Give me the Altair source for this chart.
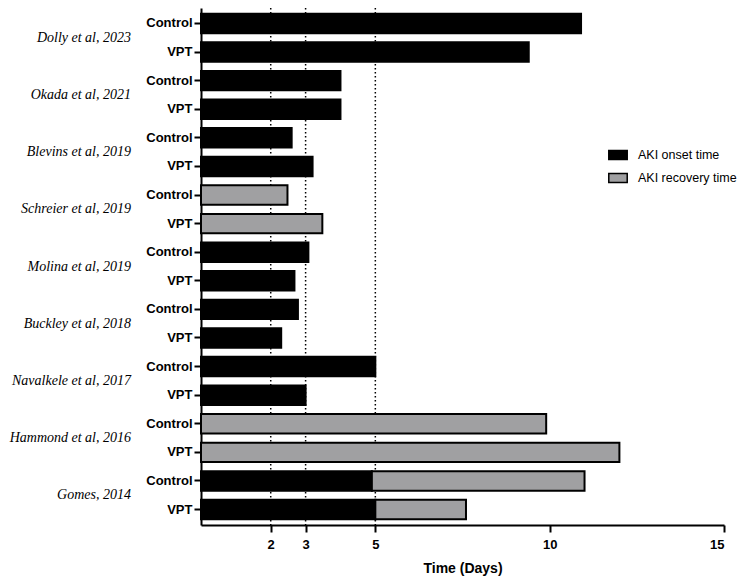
import altair as alt
import pandas as pd

studies = ["Dolly et al, 2023", "Okada et al, 2021", "Blevins et al, 2019",
           "Schreier et al, 2019", "Molina et al, 2019", "Buckley et al, 2018",
           "Navalkele et al, 2017", "Hammond et al, 2016", "Gomes, 2014"]
groups = ["Control", "VPT"]

# AKI onset time (days) per study: [Control, VPT]; None = not reported
onset = [[10.9, 9.4], [4.0, 4.0], [2.6, 3.2], [None, None], [3.08, 2.68],
         [2.78, 2.3], [5.0, 3.0], [None, None], [4.9, 5.0]]
# AKI recovery time (days) per study: [Control, VPT]; None = not reported
recovery = [[None, None], [None, None], [None, None], [2.48, 3.48], [None, None],
            [None, None], [None, None], [9.9, 12.0], [11.0, 7.6]]

x_ticks = [2, 3, 5, 10, 15]
ref_lines = [2, 3, 5]
series = ["AKI onset time", "AKI recovery time"]
colors = ["#000000", "#a0a0a2"]

rows, recs = [], []
for s, on, rc in zip(studies, onset, recovery):
    for gi, g in enumerate(groups):
        key = f"{s}|{g}"
        rows.append(key)
        start = 0.0
        if on[gi] is not None:
            recs.append({"row": key, "start": 0.0, "end": on[gi], "type": series[0]})
            start = on[gi]
        if rc[gi] is not None:
            recs.append({"row": key, "start": start, "end": rc[gi], "type": series[1]})
bars_df = pd.DataFrame(recs)
labels_df = pd.DataFrame({"row": [f"{s}|Control" for s in studies], "study": studies})
lines_df = pd.DataFrame({"v": ref_lines})

W, H = 523, 517
yscale = alt.Scale(domain=rows, paddingInner=0.32, paddingOuter=0.2)
xscale = alt.Scale(domain=[0, 15], nice=False, zero=True)
step = H / (len(rows) - 0.32 + 0.4)

rules = alt.Chart(lines_df).mark_rule(
    color="black", strokeDash=[1.5, 2.5], strokeWidth=1.5
).encode(
    x=alt.X("v:Q", scale=xscale),
    y=alt.value(0), y2=alt.value(H),
)

bars = alt.Chart(bars_df).mark_bar(stroke="black", strokeWidth=2).encode(
    x=alt.X("start:Q", scale=xscale, title="Time (Days)",
            axis=alt.Axis(values=x_ticks, format="d", grid=False, domainWidth=2,
                          domainColor="black", tickWidth=2, tickSize=7,
                          tickColor="black", labelFontWeight="bold", labelFontSize=13,
                          labelFont="Liberation Sans", labelColor="black",
                          labelPadding=6, titleFont="Liberation Sans",
                          titleFontSize=14, titleFontWeight="bold", titleColor="black",
                          titlePadding=10)),
    x2="end:Q",
    y=alt.Y("row:N", scale=yscale, sort=rows, title=None,
            axis=alt.Axis(labelExpr="split(datum.label, '|')[1]", domainWidth=2,
                          domainColor="black", tickWidth=2, tickSize=7,
                          tickColor="black", labelFontWeight="bold", labelFontSize=13,
                          labelFont="Liberation Sans", labelColor="black",
                          labelPadding=2, grid=False)),
    fill=alt.Fill("type:N", scale=alt.Scale(domain=series, range=colors), title=None,
                  legend=alt.Legend(orient="none", legendX=407, legendY=137,
                                    symbolType="M-1,-0.5L1,-0.5L1,0.5L-1,0.5Z",
                                    symbolSize=340, symbolStrokeColor="black",
                                    symbolStrokeWidth=1.5, labelFontSize=12.5,
                                    labelFont="Liberation Sans", labelColor="black",
                                    labelOffset=10, rowPadding=5)),
)

texts = alt.Chart(labels_df).mark_text(
    align="right", baseline="middle", font="Liberation Serif", fontStyle="italic",
    fontSize=14, color="black", dy=step / 2,
).encode(
    y=alt.Y("row:N", scale=yscale, sort=rows),
    x=alt.value(-70),
    text="study:N",
)

chart = alt.layer(rules, bars, texts).properties(
    width=W, height=H,
    autosize=alt.AutoSizeParams(type="none"),
    padding={"left": 193, "top": 0, "right": 20, "bottom": 52},
).configure_view(stroke=None)

chart.save("out.html", embed_options={"renderer": "svg", "actions": False})
